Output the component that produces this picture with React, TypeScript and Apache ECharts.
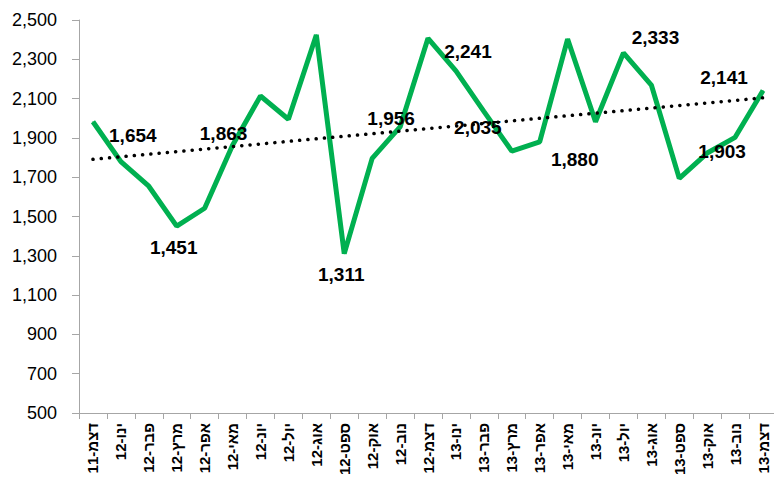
import React, { useEffect, useRef } from "react";
import * as echarts from "echarts";

const categories = [
  "דצמ-11", "ינו-12", "פבר-12", "מרץ-12", "אפר-12", "מאי-12", "יונ-12", "יול-12",
  "אוג-12", "ספט-12", "אוק-12", "נוב-12", "דצמ-12", "ינו-13", "פבר-13", "מרץ-13",
  "אפר-13", "מאי-13", "יונ-13", "יול-13", "אוג-13", "ספט-13", "אוק-13", "נוב-13", "דצמ-13",
];

const values = [
  1982, 1779, 1654, 1451, 1542, 1863, 2113, 1995, 2424, 1311, 1796, 1956, 2407,
  2241, 2035, 1833, 1880, 2403, 1982, 2333, 2169, 1694, 1823, 1903, 2141,
];

// indices of points carrying a data label
const labeledPoints = [2, 3, 5, 9, 11, 13, 14, 16, 19, 23, 24];

// linear trendline end values
const trendStart = 1791;
const trendEnd = 2104;

const yTicks = { min: 500, max: 2500, interval: 200 };

// label placement (style config, offsets in px from the point)
const labelOffsets: Record<number, [number, number]> = {
  2: [-16, -51],
  3: [-3, 21],
  5: [-9, -12],
  9: [-3, 21],
  11: [-9, -8],
  13: [12, -19],
  14: [-6, 16],
  16: [35, 18],
  19: [32, -15],
  23: [-13, 14],
  24: [-39, -13],
};

const FONT = "'Liberation Sans', Arial, sans-serif";
const fmt = (v: number) => v.toLocaleString("en-US");

export default function App() {
  const ref = useRef<HTMLDivElement>(null);

  useEffect(() => {
    if (!ref.current) return;
    const chart = echarts.init(ref.current, undefined, { renderer: "svg" });
    const last = categories.length - 1;
    const lineData = values.map((v, i) =>
      labeledPoints.includes(i)
        ? {
            value: v,
            label: {
              show: true,
              position: "inside",
              offset: labelOffsets[i] || [0, 0],
            },
          }
        : v
    );
    const trendData = categories.map((_, i) =>
      i === 0 ? trendStart : i === last ? trendEnd : null
    );
    const axisColor = "#a6a6a6";
    chart.setOption({
      animation: false,
      backgroundColor: "#ffffff",
      grid: { left: 79, right: 3, top: 20, bottom: 66 },
      xAxis: {
        type: "category",
        data: categories,
        boundaryGap: true,
        axisLine: { show: true, lineStyle: { color: axisColor, width: 1 } },
        axisTick: { show: true, length: 6, lineStyle: { color: axisColor } },
        axisLabel: {
          rotate: 90,
          interval: 0,
          margin: 10,
          fontSize: 15,
          fontWeight: "bold",
          color: "#000",
          fontFamily: FONT,
        },
        splitLine: { show: false },
      },
      yAxis: {
        type: "value",
        min: yTicks.min,
        max: yTicks.max,
        interval: yTicks.interval,
        axisLine: { show: true, lineStyle: { color: axisColor, width: 1 } },
        axisTick: { show: true, length: 7, lineStyle: { color: axisColor } },
        axisLabel: {
          margin: 22,
          fontSize: 18,
          color: "#000",
          fontFamily: FONT,
          formatter: (v: number) => fmt(v),
        },
        splitLine: { show: false },
      },
      series: [
        {
          type: "line",
          data: lineData,
          showSymbol: true,
          symbol: "circle",
          symbolSize: 1,
          itemStyle: { color: "#00B050" },
          lineStyle: { color: "#00B050", width: 5 },
          label: {
            show: false,
            color: "#000",
            fontSize: 19,
            fontWeight: "bold",
            fontFamily: FONT,
            formatter: (p: any) => fmt(p.value),
          },
          z: 2,
        },
        {
          type: "line",
          data: trendData,
          connectNulls: true,
          showSymbol: false,
          symbol: "none",
          silent: true,
          lineStyle: { color: "#000", width: 3.5, type: [0.1, 8.2], cap: "round" },
          z: 3,
        },
      ],
    });
    return () => chart.dispose();
  }, []);

  return (
    <div
      style={{
        position: "fixed",
        left: 0,
        top: 0,
        width: 774,
        height: 479,
        overflow: "hidden",
        background: "#fff",
      }}
    >
      <div ref={ref} style={{ width: 780, height: 479 }} />
    </div>
  );
}
